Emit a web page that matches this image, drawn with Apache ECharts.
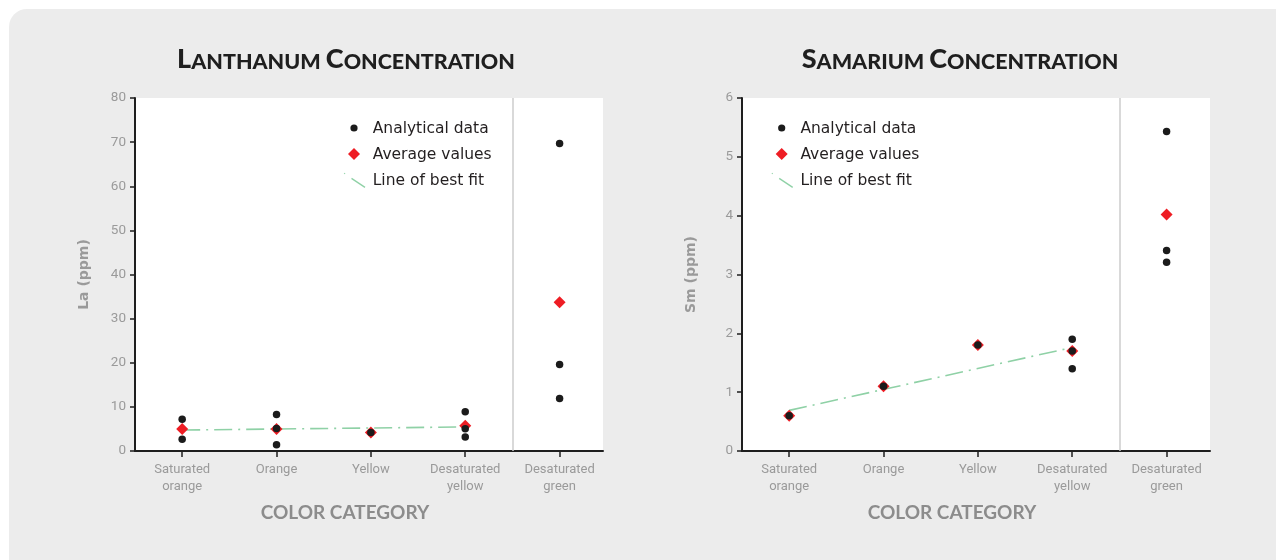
<!DOCTYPE html>
<html>
<head>
<meta charset="utf-8">
<script src="https://cdn.jsdelivr.net/npm/echarts@6/dist/echarts.min.js"></script>
<style>
  html, body { margin: 0; padding: 0; background: #ffffff; width: 1276px; height: 560px; overflow: hidden; }
  #panel { position: absolute; left: 9px; top: 9px; width: 1300px; height: 600px; background: #ececec; border-radius: 18px; }
  #chart { position: absolute; left: 0; top: 0; width: 1276px; height: 560px; }
</style>
</head>
<body>
<div id="panel"></div>
<div id="chart"></div>
<script>
// Colour categories (x positions 1..5)
const categories = ['Saturated\norange', 'Orange', 'Yellow', 'Desaturated\nyellow', 'Desaturated\ngreen'];

// Lanthanum (ppm): individual analyses per category, and category averages
const laAnalytical = [[7.2, 2.65], [8.3, 5.1, 1.4], [4.2], [8.9, 5.05, 3.2], [69.7, 19.6, 11.9]];
const laAverage = [5.0, 5.0, 4.2, 5.75, 33.7];
const laFit = [4.75, 5.45];          // best-fit line values at the first and fourth category

// Samarium (ppm)
const smAnalytical = [[0.6], [1.1], [1.8], [1.9, 1.7, 1.4], [5.43, 3.41, 3.21]];
const smAverage = [0.6, 1.1, 1.8, 1.7, 4.02];
const smFit = [0.69, 1.76];

const fitRange = [1, 4];             // fit covers the first four categories
const laTicks = { min: 0, max: 80, interval: 10 };
const smTicks = { min: 0, max: 6, interval: 1 };
const separatorAt = 4.5;             // divides the green category from the others

const catPositions = categories.map((c, i) => i + 1);
const flatten = arr => arr.flatMap((vals, i) => vals.map(v => [i + 1, v]));
const avgPoints = arr => arr.map((v, i) => [i + 1, v]);
const fitPoints = vals => vals.map((v, i) => [fitRange[i], v]);

const tickFont = 'Roboto, "Liberation Sans", sans-serif';
const grey = '#9a9a9a';

function xAxisFor(gridIndex) {
  return {
    type: 'value', gridIndex,
    min: 0.5, max: 5.46,
    name: 'COLOR CATEGORY', nameLocation: 'middle', nameGap: 52,
    nameTextStyle: { color: '#8c8c8c', fontFamily: 'Lato', fontWeight: 'bold', fontSize: 19, padding: [0, 48, 0, 0] },
    axisLine: { show: true, onZero: false, lineStyle: { color: '#1e1e1e', width: 2 } },
    axisTick: { show: true, customValues: catPositions, length: 6, lineStyle: { color: '#1e1e1e', width: 1.5 } },
    axisLabel: {
      customValues: catPositions, margin: 10,
      color: grey, fontFamily: tickFont, fontSize: 13, lineHeight: 17,
      formatter: v => categories[Math.round(v) - 1] || ''
    },
    splitLine: { show: false }
  };
}

function yAxisFor(gridIndex, ticks, name) {
  return {
    type: 'value', gridIndex,
    min: ticks.min, max: ticks.max, interval: ticks.interval,
    name, nameLocation: 'middle', nameGap: 44, nameRotate: 90,
    nameTextStyle: { color: '#9a9a9a', fontFamily: 'DejaVu Sans', fontWeight: 'bold', fontSize: 14 },
    axisLine: { show: true, onZero: false, lineStyle: { color: '#1e1e1e', width: 2 } },
    axisTick: { show: true, length: 5, lineStyle: { color: '#1e1e1e', width: 1.5 } },
    axisLabel: { margin: 9, color: grey, fontFamily: tickFont, fontSize: 13.5 },
    splitLine: { show: false }
  };
}

function seriesFor(idx, analytical, average, fit) {
  return [
    {
      name: 'Line of best fit', type: 'line', xAxisIndex: idx, yAxisIndex: idx,
      data: fitPoints(fit), showSymbol: false, symbol: 'none', z: 1, silent: true,
      lineStyle: { color: '#8fd1a6', width: 1.6, type: [18, 6, 2, 6] }
    },
    {
      name: 'Average values', type: 'scatter', xAxisIndex: idx, yAxisIndex: idx,
      data: avgPoints(average), symbol: 'diamond', symbolSize: 12, z: 2,
      itemStyle: { color: '#ee1d24', opacity: 1 }
    },
    {
      name: 'Analytical data', type: 'scatter', xAxisIndex: idx, yAxisIndex: idx,
      data: flatten(analytical), symbol: 'circle', symbolSize: 7.5, z: 3,
      itemStyle: { color: '#1b1b1b', opacity: 1 },
      markLine: {
        silent: true, symbol: 'none', label: { show: false },
        lineStyle: { color: '#cdcdcd', width: 1.5, type: 'solid' },
        data: [{ xAxis: separatorAt }]
      }
    }
  ];
}

// Legend block drawn as graphic elements; (x, y) is the centre of the first marker
function legendBlock(x, y) {
  const textStyle = t => ({ text: t, fill: '#231f20', font: '15.5px "DejaVu Sans"', verticalAlign: 'middle', align: 'left' });
  return [
    { type: 'circle', shape: { cx: x, cy: y, r: 3.6 }, style: { fill: '#1b1b1b' } },
    { type: 'text', x: x + 18.7, y: y + 0.5, style: textStyle('Analytical data') },
    { type: 'polygon', shape: { points: [[x, y + 20], [x + 6, y + 26], [x, y + 32], [x - 6, y + 26]] }, style: { fill: '#ee1d24' } },
    { type: 'text', x: x + 18.7, y: y + 26.5, style: textStyle('Average values') },
    { type: 'line', shape: { x1: x - 9.8, y1: y + 45.2, x2: x - 9, y2: y + 45.8 }, style: { stroke: '#8fd1a6', lineWidth: 1.4 } },
    { type: 'line', shape: { x1: x - 2.5, y1: y + 50.3, x2: x + 11, y2: y + 59.3 }, style: { stroke: '#8fd1a6', lineWidth: 1.4 } },
    { type: 'text', x: x + 18.7, y: y + 52.5, style: textStyle('Line of best fit') }
  ];
}

function titleText(cx, first, rest1, first2, rest2) {
  return {
    type: 'text', x: cx, y: 73,
    style: {
      text: `{b|${first}}{s|${rest1} }{b|${first2}}{s|${rest2}}`,
      align: 'center', verticalAlign: 'bottom',
      rich: {
        b: { fontFamily: 'Lato', fontWeight: 900, fontSize: 27, fill: '#1f1f1f', verticalAlign: 'bottom', lineHeight: 28 },
        s: { fontFamily: 'Lato', fontWeight: 900, fontSize: 21.5, fill: '#1f1f1f', verticalAlign: 'bottom', lineHeight: 28 }
      }
    }
  };
}

const chart = echarts.init(document.getElementById('chart'), null, { renderer: 'canvas' });
chart.setOption({
  backgroundColor: 'transparent',
  animation: false,
  grid: [
    { left: 135, top: 98, width: 468, height: 353, show: true, backgroundColor: '#ffffff', borderWidth: 0 },
    { left: 742, top: 98, width: 468, height: 353, show: true, backgroundColor: '#ffffff', borderWidth: 0 }
  ],
  xAxis: [xAxisFor(0), xAxisFor(1)],
  yAxis: [yAxisFor(0, laTicks, 'La (ppm)'), yAxisFor(1, smTicks, 'Sm (ppm)')],
  series: [
    ...seriesFor(0, laAnalytical, laAverage, laFit),
    ...seriesFor(1, smAnalytical, smAverage, smFit)
  ],
  graphic: [
    titleText(346, 'L', 'ANTHANUM', 'C', 'ONCENTRATION'),
    titleText(960, 'S', 'AMARIUM', 'C', 'ONCENTRATION'),
    ...legendBlock(354, 128),
    ...legendBlock(781.7, 128)
  ]
});
</script>
</body>
</html>
